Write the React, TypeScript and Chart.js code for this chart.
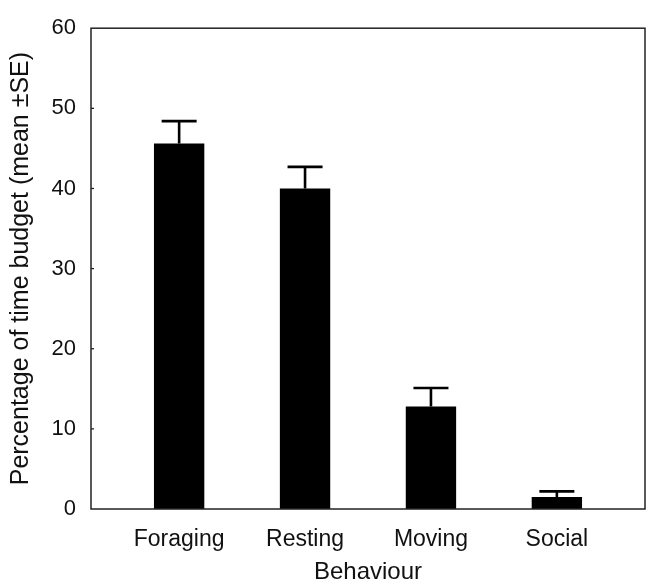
import React, { useEffect, useRef } from "react";
import { Chart, registerables } from "chart.js";

Chart.register(...registerables);

const categories = ["Foraging", "Resting", "Moving", "Social"];
const means = [45.6, 40.0, 12.8, 1.5];
const upperErrors = [48.4, 42.7, 15.1, 2.2];
const yTicks = [0, 10, 20, 30, 40, 50, 60];

const FONT = "'Liberation Sans', Arial, sans-serif";

const framePlugin = {
  id: "frameAndErrors",
  afterDatasetsDraw(chart: any) {
    const { ctx, chartArea, scales } = chart;
    const xs = scales.x;
    const ys = scales.y;
    ctx.save();
    // error bars (upper only)
    ctx.strokeStyle = "#000";
    ctx.lineWidth = 2.6;
    ctx.lineCap = "butt";
    means.forEach((m, i) => {
      const px = xs.getPixelForValue(i + 1);
      const yTop = ys.getPixelForValue(upperErrors[i]);
      const yMean = ys.getPixelForValue(m);
      ctx.beginPath();
      ctx.moveTo(px, yMean);
      ctx.lineTo(px, yTop);
      ctx.moveTo(px - 17.5, yTop);
      ctx.lineTo(px + 17.5, yTop);
      ctx.stroke();
    });
    // frame
    ctx.strokeStyle = "#222";
    ctx.lineWidth = 1.5;
    ctx.strokeRect(
      chartArea.left,
      chartArea.top,
      chartArea.right - chartArea.left,
      chartArea.bottom - chartArea.top
    );
    // inner y ticks
    ctx.lineWidth = 1.3;
    yTicks.forEach((t) => {
      if (t === 0 || t === 60) return;
      const py = ys.getPixelForValue(t);
      ctx.beginPath();
      ctx.moveTo(chartArea.left, py);
      ctx.lineTo(chartArea.left + 3, py);
      ctx.stroke();
    });
    ctx.restore();
  },
};

export default function App() {
  const canvasRef = useRef<HTMLCanvasElement | null>(null);

  useEffect(() => {
    if (!canvasRef.current) return;
    const chart = new Chart(canvasRef.current, {
      type: "bar",
      data: {
        datasets: [
          {
            data: means.map((v, i) => ({ x: i + 1, y: v })),
            backgroundColor: "#000",
            borderWidth: 0,
            barPercentage: 0.4,
            categoryPercentage: 1,
          },
        ],
      },
      options: {
        animation: false,
        responsive: false,
        maintainAspectRatio: false,
        layout: { padding: { top: 24, right: 1, left: 0, bottom: 0 } },
        plugins: {
          legend: { display: false },
          tooltip: { enabled: false },
        },
        scales: {
          x: {
            type: "linear",
            offset: false,
            min: 0.3,
            max: 4.7,
            grid: { display: false, drawTicks: false },
            border: { display: false },
            afterBuildTicks: (scale: any) => {
              scale.ticks = categories.map((_, i) => ({ value: i + 1 }));
            },
            afterFit: (scale: any) => {
              scale.height = 78;
            },
            ticks: {
              autoSkip: false,
              maxRotation: 0,
              padding: 17,
              color: "#111",
              font: { family: FONT, size: 23 },
              callback: (v: any) => categories[Math.round(Number(v)) - 1] ?? "",
            },
            title: {
              display: true,
              text: "Behaviour",
              color: "#111",
              font: { family: FONT, size: 24 },
              padding: { top: 0, bottom: 0 },
            },
          },
          y: {
            min: 0,
            max: 60,
            grid: { display: false, drawTicks: false },
            border: { display: false },
            afterBuildTicks: (scale: any) => {
              scale.ticks = yTicks.map((v) => ({ value: v }));
            },
            afterFit: (scale: any) => {
              scale.width = 91;
            },
            ticks: {
              padding: 15,
              color: "#111",
              font: { family: FONT, size: 22 },
            },
            title: {
              display: true,
              text: "Percentage of time budget (mean \u00B1SE)",
              color: "#111",
              font: { family: FONT, size: 25 },
              padding: { top: 6, bottom: 0 },
            },
          },
        },
      },
      plugins: [framePlugin],
    } as any);
    return () => chart.destroy();
  }, []);

  return (
    <div style={{ position: "fixed", left: 0, top: 0, width: 646, height: 587, background: "#fff" }}>
      <canvas ref={canvasRef} width={646} height={587} style={{ width: 646, height: 587 }} />
    </div>
  );
}
